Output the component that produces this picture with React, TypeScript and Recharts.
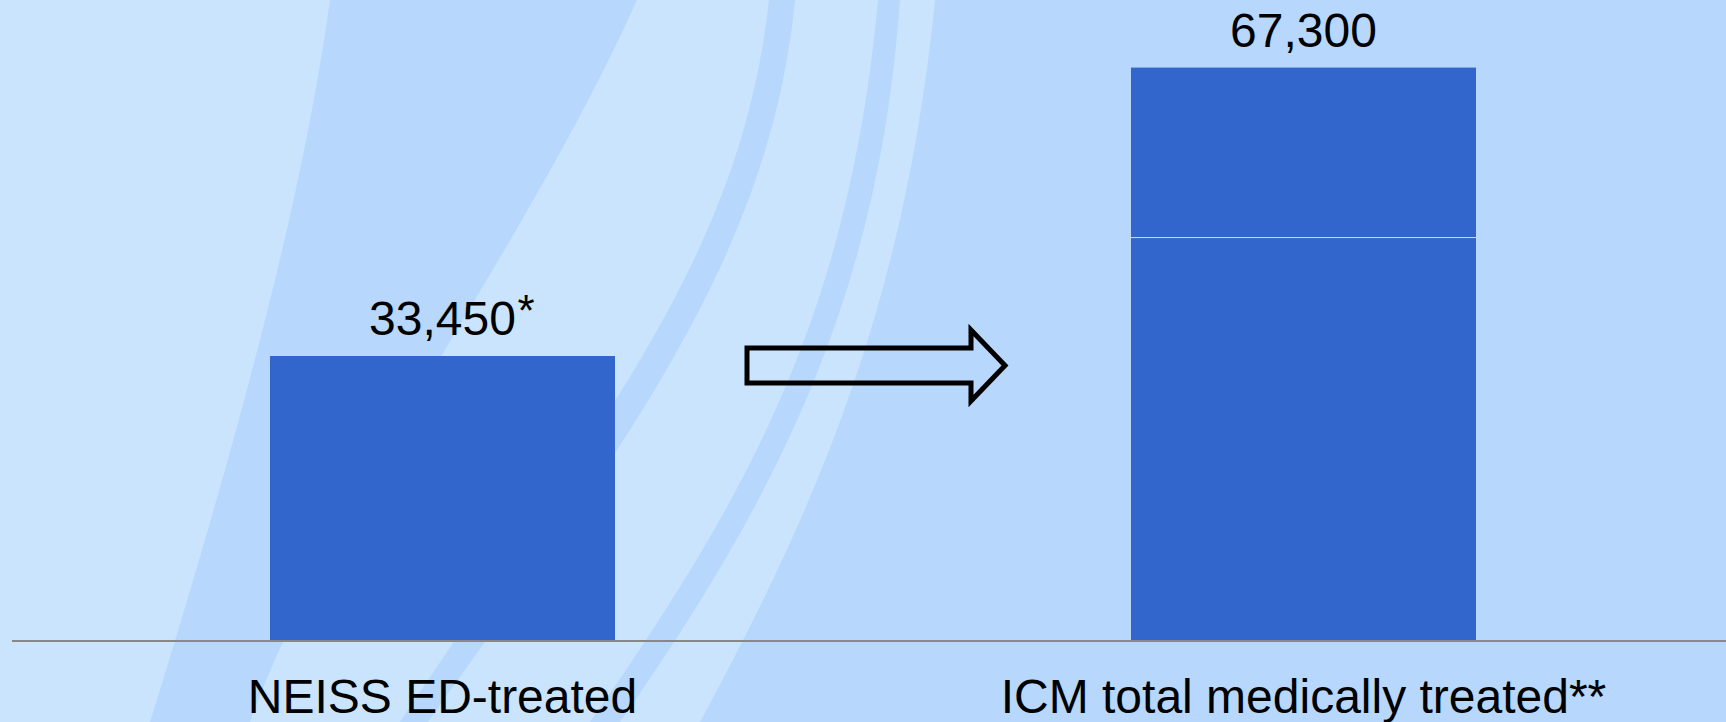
import React from "react";
import { BarChart, Bar, XAxis, YAxis, LabelList } from "recharts";

const categories = ["NEISS ED-treated", "ICM total medically treated**"];
const edTreated = [33450, 47350];
const additional = [0, 19950];
const valueLabels = ["33,450", "67,300"];
const valueNotes = ["*", ""];

const data = categories.map((name, i) => ({
  name,
  base: edTreated[i],
  extra: additional[i],
  label: valueLabels[i],
  note: valueNotes[i],
}));

const FONT = "'Liberation Sans', Arial, sans-serif";
const BAR = "#3366cc";
const LIGHT = "#cbe4fe";
const DARK = "#b7d7fc";

const renderValueLabel = (series: "base" | "extra") => (props: any) => {
  const { x, y, width, index } = props;
  const row = data[index];
  if (!row) return null;
  const isTop = series === "extra" ? row.extra > 0 : row.extra === 0;
  if (!isTop) return null;
  const cx = Number(x) + Number(width) / 2;
  const ty = Number(y) - 21;
  return (
    <g>
      <text x={cx} y={ty} textAnchor="middle" fontSize={48} fontFamily={FONT} fill="#000">
        {row.label}
      </text>
      {row.note ? (
        <text x={cx + 75} y={ty - 9} textAnchor="start" fontSize={44} fontFamily={FONT} fill="#000">
          {row.note}
        </text>
      ) : null}
    </g>
  );
};

const ExtraShape = (props: any) => {
  const { x, y, width, height, fill } = props;
  if (!height || height <= 0) return null;
  return (
    <g>
      <rect x={x} y={y} width={width} height={height} fill={fill} />
      <line x1={x} x2={x + width} y1={y + height} y2={y + height} stroke="#c9dcf6" strokeWidth={1} />
    </g>
  );
};

const CategoryTick = (props: any) => {
  const { x, y, payload } = props;
  return (
    <text x={x} y={Number(y) + 72} textAnchor="middle" fontSize={48} fontFamily={FONT} fill="#000">
      {payload.value}
    </text>
  );
};

const Background = () => (
  <svg width={1726} height={722} style={{ position: "absolute", left: 0, top: 0 }}>
    <rect x={0} y={0} width={1726} height={722} fill={DARK} />
    <path d="M0,0 L330,0 C305,180 250,400 150,722 L0,722 Z" fill={LIGHT} />
    <path d="M637,0 L769,0 C740,260 600,420 400,722 L250,722 C330,500 520,260 637,0 Z" fill={LIGHT} />
    <path d="M795,0 L878,0 C850,300 760,480 590,722 L428,722 C620,450 770,260 795,0 Z" fill={LIGHT} />
    <path d="M900,0 L935,0 C905,300 820,500 700,722 L620,722 C790,480 880,280 900,0 Z" fill={LIGHT} />
  </svg>
);

const Arrow = () => (
  <svg width={1726} height={722} style={{ position: "absolute", left: 0, top: 0, pointerEvents: "none" }}>
    <path
      d="M747,348 L971,348 L971,330 L1005,365.5 L971,401 L971,383 L747,383 Z"
      fill="none"
      stroke="#000"
      strokeWidth={5}
      strokeLinejoin="miter"
    />
  </svg>
);

export default function App() {
  return (
    <div style={{ position: "absolute", left: 0, top: 0, width: 1726, height: 722, overflow: "hidden" }}>
      <Background />
      <div style={{ position: "absolute", left: 0, top: 0 }}>
        <BarChart
          width={1734}
          height={722}
          data={data}
          margin={{ top: 2, right: 0, left: 12, bottom: 0 }}
          barSize={345}
        >
          <YAxis hide domain={[0, 75000]} />
          <XAxis
            dataKey="name"
            height={81}
            tickLine={false}
            tickSize={0}
            tickMargin={0}
            axisLine={{ stroke: "#888888", strokeWidth: 2 }}
            tick={<CategoryTick />}
            interval={0}
          />
          <Bar dataKey="base" stackId="a" fill={BAR} isAnimationActive={false}>
            <LabelList dataKey="label" content={renderValueLabel("base")} />
          </Bar>
          <Bar dataKey="extra" stackId="a" fill={BAR} isAnimationActive={false} shape={<ExtraShape />}>
            <LabelList dataKey="label" content={renderValueLabel("extra")} />
          </Bar>
        </BarChart>
      </div>
      <Arrow />
    </div>
  );
}
